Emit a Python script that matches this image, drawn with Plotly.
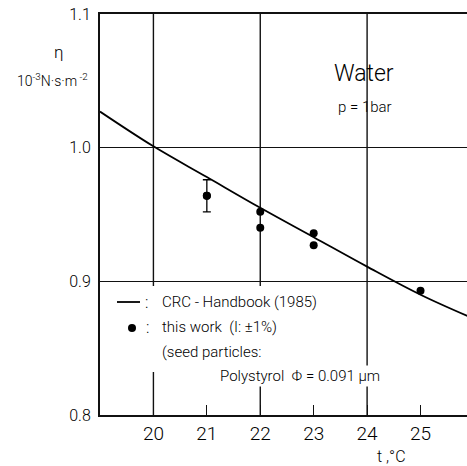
import plotly.graph_objects as go

# ---- data ----
t_crc = [19, 20, 21, 22, 23, 24, 25, 26]
eta_crc = [1.027, 1.001, 0.978, 0.955, 0.933, 0.911, 0.890, 0.872]

t_meas = [21, 22, 22, 23, 23, 25]
eta_meas = [0.964, 0.952, 0.940, 0.936, 0.927, 0.893]
err_meas = [0.012, 0, 0, 0, 0, 0]

x_ticks = [20, 21, 22, 23, 24, 25]
y_ticks = [0.8, 0.9, 1.0, 1.1]
grid_t = [20, 22, 24]
x_range = [19, 25.87]
y_range = [0.8, 1.1]

FONT = "Roboto"
W, H = 467, 466
L, R, T, B = 100, 0, 14, 51
PW, PH = W - L - R, H - T - B


def px(x):
    return (x - L) / PW


def py(y):
    return (H - B - y) / PH


fig = go.Figure()

fig.add_trace(go.Scatter(x=t_crc, y=eta_crc, mode="lines", line=dict(color="black", width=1.8, shape="spline"),
                         showlegend=False, hoverinfo="skip"))

fig.add_trace(go.Scatter(x=t_meas, y=eta_meas, mode="markers", marker=dict(color="black", size=8),
                         showlegend=False))

et = [t for t, e in zip(t_meas, err_meas) if e > 0]
ev = [v for v, e in zip(eta_meas, err_meas) if e > 0]
ee = [e for e in err_meas if e > 0]
fig.add_trace(go.Scatter(x=et, y=ev, mode="markers", marker=dict(color="black", size=8),
                         error_y=dict(type="data", array=ee, color="black", thickness=1.3, width=4),
                         showlegend=False))

shapes = []
for g in grid_t:
    shapes.append(dict(type="line", xref="x", yref="paper", x0=g, x1=g, y0=0, y1=1,
                       line=dict(color="#111", width=1.4), layer="between"))
# legend box (blank area)
shapes.append(dict(type="rect", xref="paper", yref="paper", x0=px(103), x1=px(362), y0=py(372), y1=py(286),
                   fillcolor="white", line=dict(width=0), layer="between"))
# legend line symbol
shapes.append(dict(type="line", xref="paper", yref="paper", x0=px(117), x1=px(140), y0=py(302), y1=py(302),
                   line=dict(color="black", width=1.8), layer="above"))
# legend dot symbol
shapes.append(dict(type="circle", xref="paper", yref="paper", x0=px(128), x1=px(136), y0=py(332), y1=py(324),
                   fillcolor="black", line=dict(color="black", width=0), layer="above"))

ann = []


def add(text, x, y, size, xanchor="left", yanchor="middle", bg=None, weight=300):
    d = dict(text=text, x=px(x), y=py(y), xref="paper", yref="paper", showarrow=False,
             xanchor=xanchor, yanchor=yanchor,
             font=dict(family=FONT, size=size, color="black", weight=weight))
    if bg:
        d["bgcolor"] = bg
        d["borderpad"] = 1
    ann.append(d)


add("η", 58, 52, 17, xanchor="center")
add("10<sup>-3</sup>N·s·m<sup> -2</sup>", 52, 80, 14, xanchor="center")
add("Water", 364, 73, 23, xanchor="center")
add("p = 1bar", 365, 107, 15, xanchor="center")
add(":", 146, 302, 16, xanchor="center")
add("CRC - Handbook (1985)", 160, 302, 15)
add(":", 147, 327, 16, xanchor="center")
add("this work  (I: ±1%)", 160, 327, 15)
add("(seed particles:", 160, 352, 15)
add("Polystyrol  Φ = 0.091 μm", 218, 376, 15, bg="white")
add("t ,°C", 391, 457, 16, xanchor="center")

fig.update_layout(
    width=W, height=H, margin=dict(l=L, r=R, t=T, b=B),
    paper_bgcolor="white", plot_bgcolor="white",
    shapes=shapes, annotations=ann, showlegend=False,
    font=dict(family=FONT, color="black", weight=300),
    xaxis=dict(range=x_range, tickmode="array", tickvals=x_ticks, ticks="inside", ticklen=10, tickwidth=1.4,
               tickcolor="#111", showgrid=False, zeroline=False, showline=True, linecolor="#111", linewidth=2,
               mirror=True, tickfont=dict(size=19, family=FONT, weight=300)),
    yaxis=dict(range=y_range, tickmode="array", tickvals=y_ticks, tickformat=".1f", ticks="", showgrid=True,
               gridcolor="#111", gridwidth=1.4, zeroline=False, showline=True, linecolor="#111", linewidth=2,
               tickfont=dict(size=16, family=FONT, weight=300), ticklabelstandoff=4),
)

fig.write_html("out.html")
